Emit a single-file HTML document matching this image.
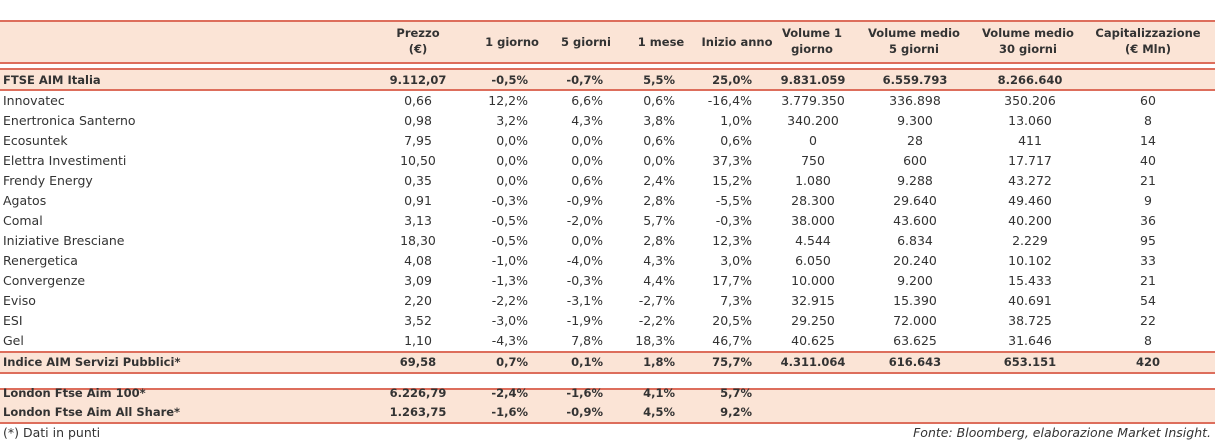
<!DOCTYPE html>
<html><head><meta charset="utf-8">
<style>
body{margin:0;background:#fff;width:1215px;height:443px;overflow:hidden;font-family:"DejaVu Sans","Liberation Sans",sans-serif;color:#333;}
#t{position:relative;width:1215px;height:443px;}
.band{position:absolute;left:0;width:1215px;background:#fbe4d6;}
.ln{position:absolute;left:0;width:1215px;height:2px;background:#dd6e5c;}
.c{position:absolute;font-size:12.5px;white-space:nowrap;line-height:14px;}
.b{font-weight:bold;font-size:11.5px;}
.h{font-weight:bold;font-size:11.5px;text-align:center;line-height:16px;}
.ft{position:absolute;font-size:12.5px;}
</style></head><body>
<div id="t">
<div class="band" style="top:21px;height:42px"></div>
<div class="band" style="top:69px;height:21px"></div>
<div class="band" style="top:352px;height:21px"></div>
<div class="band" style="top:389px;height:34px"></div>
<div class="ln" style="top:20px"></div>
<div class="ln" style="top:62px"></div>
<div class="ln" style="top:68px"></div>
<div class="ln" style="top:89px"></div>
<div class="ln" style="top:351px"></div>
<div class="ln" style="top:372px"></div>
<div class="ln" style="top:388px"></div>
<div class="ln" style="top:422px"></div>
<div class="ft" style="left:3px;top:425px">(*) Dati in punti</div>
<div class="ft" style="right:4px;top:425px;font-style:italic">Fonte: Bloomberg, elaborazione Market Insight.</div>
</div>
<script>
const headers=["Prezzo<br>(€)","1 giorno","5 giorni","1 mese","Inizio anno","Volume 1<br>giorno","Volume medio<br>5 giorni","Volume medio<br>30 giorni","Capitalizzazione<br>(€ Mln)"];
const headerCenters=[418,512,586,661,737,812,914,1028,1148];
const names=["FTSE AIM Italia","Innovatec","Enertronica Santerno","Ecosuntek","Elettra Investimenti","Frendy Energy","Agatos","Comal","Iniziative Bresciane","Renergetica","Convergenze","Eviso","ESI","Gel","Indice AIM Servizi Pubblici*","London Ftse Aim 100*","London Ftse Aim All Share*"];
const prices=["9.112,07","0,66","0,98","7,95","10,50","0,35","0,91","3,13","18,30","4,08","3,09","2,20","3,52","1,10","69,58","6.226,79","1.263,75"];
const day1=["-0,5%","12,2%","3,2%","0,0%","0,0%","0,0%","-0,3%","-0,5%","-0,5%","-1,0%","-1,3%","-2,2%","-3,0%","-4,3%","0,7%","-2,4%","-1,6%"];
const day5=["-0,7%","6,6%","4,3%","0,0%","0,0%","0,6%","-0,9%","-2,0%","0,0%","-4,0%","-0,3%","-3,1%","-1,9%","7,8%","0,1%","-1,6%","-0,9%"];
const month1=["5,5%","0,6%","3,8%","0,6%","0,0%","2,4%","2,8%","5,7%","2,8%","4,3%","4,4%","-2,7%","-2,2%","18,3%","1,8%","4,1%","4,5%"];
const ytd=["25,0%","-16,4%","1,0%","0,6%","37,3%","15,2%","-5,5%","-0,3%","12,3%","3,0%","17,7%","7,3%","20,5%","46,7%","75,7%","5,7%","9,2%"];
const vol1=["9.831.059","3.779.350","340.200","0","750","1.080","28.300","38.000","4.544","6.050","10.000","32.915","29.250","40.625","4.311.064","",""];
const vol5=["6.559.793","336.898","9.300","28","600","9.288","29.640","43.600","6.834","20.240","9.200","15.390","72.000","63.625","616.643","",""];
const vol30=["8.266.640","350.206","13.060","411","17.717","43.272","49.460","40.200","2.229","10.102","15.433","40.691","38.725","31.646","653.151","",""];
const caps=["","60","8","14","40","21","9","36","95","33","21","54","22","8","420","",""];
const boldRows=[0,14,15,16];
const rowTops=[73,94,114,134,154,174,194,214,234,254,274,294,314,334,355,386,405];
const t=document.getElementById('t');
headers.forEach((h,i)=>{
  const d=document.createElement('div');
  d.className='c h';
  
  
  d.innerHTML=h;
  const two=h.includes('<br>');
  d.style.top=(two?25:34)+'px';
  d.style.left=(headerCenters[i]-80)+'px';d.style.width='160px';
  t.appendChild(d);
});
const cols=[[prices,'c',418],[day1,'r',528],[day5,'r',603],[month1,'r',675],[ytd,'r',752],[vol1,'c',813],[vol5,'c',915],[vol30,'c',1030],[caps,'c',1148]];
names.forEach((n,r)=>{
  const bold=boldRows.includes(r);
  const d=document.createElement('div');
  d.className='c'+(bold?' b':'');
  
  
  d.textContent=n;d.style.left='3px';d.style.top=rowTops[r]+'px';
  t.appendChild(d);
  cols.forEach(([arr,al,x])=>{
    if(!arr[r])return;
    const e=document.createElement('div');
    e.className='c'+(bold?' b':'');
    
    
    e.textContent=arr[r];e.style.top=rowTops[r]+'px';
    if(al==='c'){e.style.left=(x-60)+'px';e.style.width='120px';e.style.textAlign='center';}
    else{e.style.left=(x-120)+'px';e.style.width='120px';e.style.textAlign='right';}
    t.appendChild(e);
  });
});
</script>
</body></html>
